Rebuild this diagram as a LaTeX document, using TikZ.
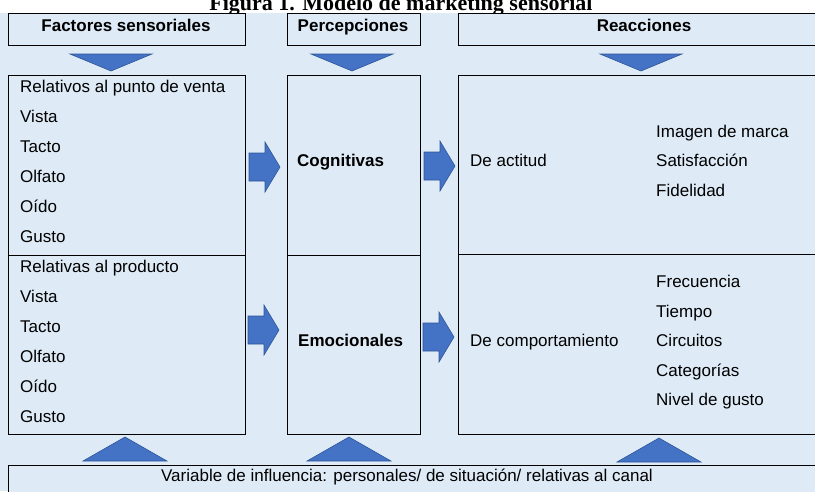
\documentclass[tikz,border=0pt]{standalone}
\usepackage{fontspec}
\setmainfont{Liberation Sans}
\newfontfamily\titlefont{Liberation Serif}
\usepackage{tikz}
\usetikzlibrary{positioning}
\definecolor{bgblue}{HTML}{DEEBF7}
\definecolor{arrowblue}{HTML}{4472C4}
\definecolor{arrowedge}{HTML}{2F5597}
\tikzset{
    sens-box/.style = {draw=black, fill=bgblue, line width=0.8pt, rectangle, inner sep=0pt, anchor=north west},
    head-text/.style = {font=\fontsize{17}{20}\selectfont\bfseries, inner sep=0pt, anchor=base},
    item-list/.style = {font=\fontsize{17}{30}\selectfont, align=left, inner sep=0pt},
    blue-shape/.style = {fill=arrowblue, draw=arrowedge, line width=0.6pt},
    blk-arrow/.pic = {\path[blue-shape] (0,-14) -- (16,-14) -- (16,-25) -- (31,0) -- (16,25) -- (16,14) -- (0,14) -- cycle;},
    down-tri/.pic = {\path[blue-shape] (-41,0) -- (41,0) -- (0,17) -- cycle;},
    up-tri/.pic = {\path[blue-shape] (-42,0) -- (42,0) -- (0,-24) -- cycle;},
}

\begin{document}
\begin{tikzpicture}[x=1pt, y=-1pt]
\useasboundingbox (0,0) rectangle (815,491);
\clip (0,0) rectangle (815,491);
\fill[bgblue] (0,13) rectangle (815,491);
\node[font=\titlefont\fontsize{22}{24}\selectfont\bfseries, anchor=base, inner sep=0pt] (title) at (401,10) {Figura 1. Modelo de marketing sensorial};

% cabeceras
\node[sens-box, minimum width=237pt, minimum height=32pt] (fact-head) at (8,13) {};
\node[sens-box, minimum width=133pt, minimum height=32pt] (perc-head) at (287,13) {};
\node[sens-box, minimum width=372pt, minimum height=32pt] (reac-head) at (458,13) {};
\node[head-text] at (126,31) {Factores sensoriales};
\node[head-text] at (353,31) {Percepciones};
\node[head-text] at (644,31) {Reacciones};
\pic at (111,54) {down-tri};
\pic at (352,54) {down-tri};
\pic at (641,54) {down-tri};

% cajas
\node[sens-box, minimum width=237pt, minimum height=180pt] (punto-venta) at (8,75) {};
\node[sens-box, minimum width=237pt, minimum height=179pt] (producto) at (8,255) {};
\node[sens-box, minimum width=133pt, minimum height=180pt] (cognitivas) at (287,75) {};
\node[sens-box, minimum width=133pt, minimum height=179pt] (emocionales) at (287,255) {};
\node[sens-box, minimum width=372pt, minimum height=179pt] (actitud) at (458,75) {};
\node[sens-box, minimum width=372pt, minimum height=180pt] (comportamiento) at (458,254) {};

\node[item-list, anchor=north west] (lista-venta) at (20,80) {Relativos al punto de venta\\Vista\\Tacto\\Olfato\\Oído\\Gusto};
\node[item-list, anchor=north west] (lista-producto) at (20,260) {Relativas al producto\\Vista\\Tacto\\Olfato\\Oído\\Gusto};
\node[head-text, anchor=base west] (txt-cogn) at (297,166) {Cognitivas};
\node[head-text, anchor=base west] (txt-emoc) at (298,346) {Emocionales};
\node[item-list, anchor=base west] (txt-actitud) at (470,166) {De actitud};
\node[item-list, anchor=base west] (txt-comport) at (470,346) {De comportamiento};
\node[item-list, anchor=north west, font=\fontsize{17}{29.3}\selectfont] (lista-actitud) at (656,125) {Imagen de marca\\Satisfacción\\Fidelidad};
\node[item-list, anchor=north west, font=\fontsize{17}{29.5}\selectfont] (lista-comport) at (656,275) {Frecuencia\\Tiempo\\Circuitos\\Categorías\\Nivel de gusto};

\pic at (249,167) {blk-arrow};
\pic at (424,166) {blk-arrow};
\pic at (248,330) {blk-arrow};
\pic at (423,337) {blk-arrow};

% variables de influencia
\pic at (125,461) {up-tri};
\pic at (349,461) {up-tri};
\pic at (659,462) {up-tri};
\node[sens-box, minimum width=822pt, minimum height=40pt] (influencia) at (8,465) {};
\node[font=\fontsize{17}{19}\selectfont, inner sep=0pt, anchor=base] (txt-influencia) at (407,481) {Variable de influencia: personales/ de situación/ relativas al canal};
\end{tikzpicture}
\end{document}
